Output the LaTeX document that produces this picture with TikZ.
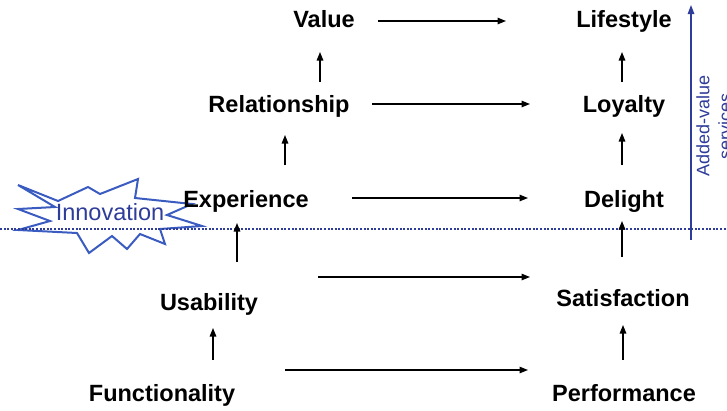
\documentclass[tikz,border=0pt]{standalone}
\usepackage{fontspec}
\setmainfont{Liberation Sans}
\usetikzlibrary{arrows.meta,calc}
\definecolor{navy}{HTML}{2E3C9A}
\definecolor{burst}{HTML}{3A5CC0}
\tikzset{
  lbl/.style={anchor=base,inner sep=0pt,font=\fontsize{23.5}{26}\selectfont\bfseries},
  arr/.style={line width=1.4pt,-{Triangle[length=8.5pt,width=6.5pt]}},
}
\begin{document}
\begin{tikzpicture}[x=1pt,y=-1pt]
\useasboundingbox (0,0) rectangle (727,410);
% starburst
\draw[burst,line width=2pt,line join=miter] (18,185) -- (58,201) -- (88,187) -- (100,194) -- (138,179) -- (135,198) -- (192,204) -- (167,215) -- (202,226) -- (160,229) -- (165,244) -- (140,234) -- (127,249) -- (112,236) -- (89,253) -- (77,233) -- (18,230) -- (50,221) -- (18,209) -- (55,207) -- cycle;
\node[inner sep=0pt,text=navy,font=\fontsize{23.5}{26}\selectfont] (inn) at (110,212) {Innovation};
% dotted line
\coordinate (dl) at (0,229);
\coordinate (dr) at (727,229);
\draw[navy,line width=2pt,dash pattern=on 2pt off 1.6pt] (dl) -- (dr);
% added value arrow
\coordinate (av0) at (691,240);
\coordinate (av1) at (691,5);
\draw[navy,line width=1.3pt,-{Triangle[length=9pt,width=6.5pt]}] (av0) -- (av1);
\node[rotate=90,align=center,text=navy,inner sep=0pt,font=\fontsize{18}{22}\selectfont] (avt) at (714,126) {Added-value\\services};
% nodes
\node[lbl] (val) at (324,27) {Value};
\node[lbl] (life) at (624,27) {Lifestyle};
\node[lbl] (rel) at (279,112) {Relationship};
\node[lbl] (loy) at (624,112) {Loyalty};
\node[lbl] (exp) at (246,207) {Experience};
\node[lbl] (del) at (624,207) {Delight};
\node[lbl] (usa) at (209,310) {Usability};
\node[lbl] (sat) at (623,306) {Satisfaction};
\node[lbl] (fun) at (162,401) {Functionality};
\node[lbl] (perf) at (624,401) {Performance};
% horizontal arrows
\draw[arr] ($(val.base)+(54,-6)$) -- ($(life.base)+(-118,-6)$);
\draw[arr] ($(rel.base)+(93,-8)$) -- ($(loy.base)+(-94,-8)$);
\draw[arr] ($(exp.base)+(106,-9)$) -- ($(del.base)+(-96,-9)$);
\draw[arr] ($(usa.base)+(109,-33)$) -- ($(sat.base)+(-93,-29)$);
\draw[arr] ($(fun.base)+(123,-31)$) -- ($(perf.base)+(-96,-31)$);
% vertical arrows left
\draw[arr] ($(fun.base)+(51,-41)$) -- ($(usa.base)+(4,18)$);
\draw[arr] ($(usa.base)+(28,-48)$) -- ($(exp.base)+(-9,16)$);
\draw[arr] ($(exp.base)+(39,-42)$) -- ($(rel.base)+(6,23)$);
\draw[arr] ($(rel.base)+(41,-30)$) -- ($(val.base)+(-4,25)$);
% vertical arrows right
\draw[arr] ($(perf.base)+(-1,-41)$) -- ($(sat.base)+(0,19)$);
\draw[arr] ($(sat.base)+(-1,-49)$) -- ($(del.base)+(-2,14)$);
\draw[arr] ($(del.base)+(-2,-42)$) -- ($(loy.base)+(-2,21)$);
\draw[arr] ($(loy.base)+(-2,-30)$) -- ($(life.base)+(-2,25)$);
\end{tikzpicture}
\end{document}
